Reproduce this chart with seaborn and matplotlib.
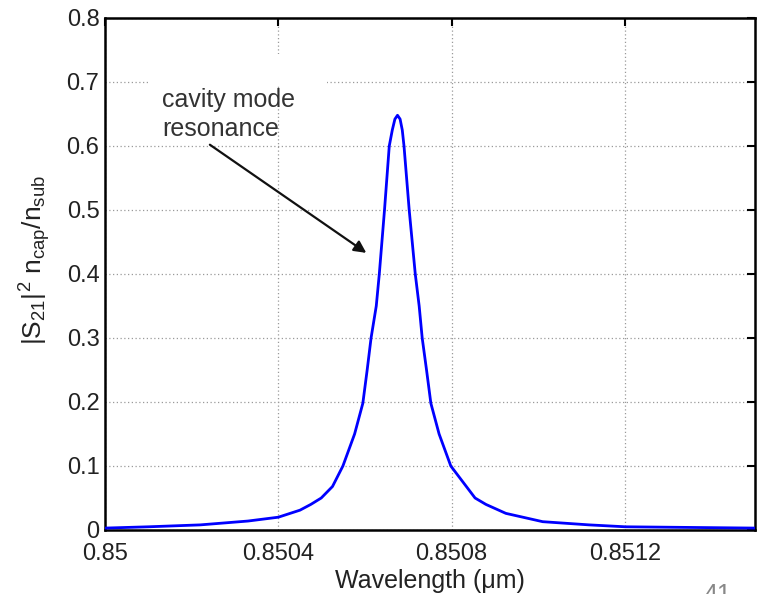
import matplotlib
matplotlib.use("Agg")
import matplotlib.pyplot as plt
import seaborn as sns
import pandas as pd
from matplotlib.patches import Rectangle

# ---- data ----
wavelength = [0.850000, 0.850100, 0.850220, 0.850330, 0.850400, 0.850450,
              0.850475, 0.850499, 0.850525, 0.850549, 0.850576, 0.850595,
              0.850605, 0.850614, 0.850626, 0.850633, 0.850645, 0.850656,
              0.850663, 0.850669, 0.850675, 0.850681, 0.850686, 0.850690,
              0.850702, 0.850716, 0.850725, 0.850732, 0.850742, 0.850752,
              0.850771, 0.850798, 0.850854, 0.850879, 0.850925, 0.851010,
              0.851117, 0.851201, 0.851350, 0.851500]
transmission = [0.003, 0.005, 0.008, 0.014, 0.020, 0.031,
                0.040, 0.050, 0.068, 0.100, 0.150, 0.198,
                0.250, 0.300, 0.350, 0.400, 0.500, 0.600,
                0.625, 0.642, 0.648, 0.642, 0.625, 0.600,
                0.500, 0.400, 0.350, 0.300, 0.250, 0.198,
                0.150, 0.100, 0.050, 0.040, 0.026, 0.013,
                0.008, 0.005, 0.004, 0.003]
xtick_vals = [0.85, 0.8504, 0.8508, 0.8512]
xtick_labels = ["0.85", "0.8504", "0.8508", "0.8512"]
ytick_vals = [0, 0.1, 0.2, 0.3, 0.4, 0.5, 0.6, 0.7, 0.8]
ytick_labels = ["0", "0.1", "0.2", "0.3", "0.4", "0.5", "0.6", "0.7", "0.8"]
annot_text = "cavity mode\nresonance"

df = pd.DataFrame({"wavelength": wavelength, "value": transmission})

sns.set_style("white")
plt.rcParams["font.family"] = ["Liberation Sans", "DejaVu Sans"]
plt.rcParams["mathtext.fontset"] = "custom"
plt.rcParams["mathtext.rm"] = "Liberation Sans"
plt.rcParams["mathtext.it"] = "Liberation Sans"
plt.rcParams["mathtext.bf"] = "Liberation Sans:bold"

fig = plt.figure(figsize=(7.67, 5.94), dpi=100)
ax = fig.add_axes([105 / 767, 1 - 530 / 594, 650 / 767, 512 / 594])

sns.lineplot(data=df, x="wavelength", y="value", ax=ax, color="#0000ff",
             linewidth=2.0, zorder=3)

ax.set_xlim(0.85, 0.8515)
ax.set_ylim(0, 0.8)
ax.set_xticks(xtick_vals, xtick_labels)
ax.set_yticks(ytick_vals, ytick_labels)
ax.tick_params(axis="both", which="both", direction="in", length=6, width=1.5,
               top=True, right=True, labelsize=17, colors="black")
ax.tick_params(axis="x", pad=9)
ax.tick_params(axis="y", pad=4)
ax.tick_params(axis="both", labelcolor="#222222")

ax.grid(True, linestyle=(0, (1, 2)), color="#9a9a9a", linewidth=0.9)
ax.set_axisbelow(True)
for s in ax.spines.values():
    s.set_color("black")
    s.set_linewidth(1.8)

# white patch that hides the grid behind the annotation (as in reference)
ax.add_patch(Rectangle((0.066, 0.867), 0.276, 0.062, transform=ax.transAxes,
                       facecolor="white", edgecolor="none", zorder=1))

ax.set_xlabel("Wavelength (\u03bcm)", fontsize=18, color="#222222", labelpad=3)
ax.set_ylabel(r"$\mathrm{|S_{21}|^2\ n_{cap}/n_{sub}}$", fontsize=19,
              color="#222222")
ax.yaxis.set_label_coords(-0.080, 0.527)

ax.text(0.850131, 0.691, annot_text, ha="left", va="top", fontsize=18,
        color="#333333", linespacing=1.3, zorder=4)
ax.annotate("", xy=(0.850603, 0.433), xytext=(0.850242, 0.602),
            arrowprops=dict(arrowstyle="-|>", color="#111111", lw=1.6,
                            mutation_scale=18, shrinkA=0, shrinkB=0),
            zorder=4)

fig.text(703 / 767, 1 - 583 / 594, "41", ha="left", va="top", fontsize=18,
         color="#888888")

fig.savefig("out.png", dpi=100)
